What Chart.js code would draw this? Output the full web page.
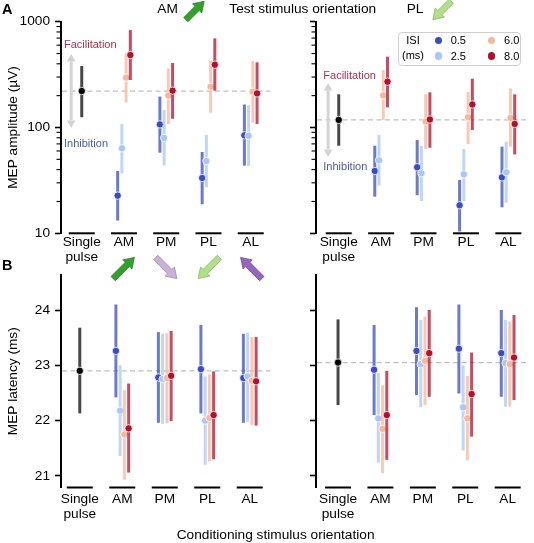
<!DOCTYPE html>
<html><head><meta charset="utf-8">
<script src="https://cdn.jsdelivr.net/npm/chart.js@4.4.1/dist/chart.umd.min.js"></script>
<style>
html,body{margin:0;padding:0;background:#fff;}
body{width:534px;height:543px;position:relative;overflow:hidden;font-family:'Liberation Sans',Arial,sans-serif;color:#000;}
canvas{position:absolute;}
svg{position:absolute;left:0;top:0;}
.t{position:absolute;white-space:nowrap;line-height:16px;font-size:13.7px;}
.s{position:absolute;white-space:nowrap;line-height:13px;font-size:11px;}
</style></head><body>
<canvas id="cA1" width="275" height="266" style="left:0;top:0;width:275px;height:266px"></canvas>
<canvas id="cA2" width="259" height="266" style="left:275px;top:0;width:259px;height:266px"></canvas>
<canvas id="cB1" width="275" height="275" style="left:0;top:250px;width:275px;height:275px"></canvas>
<canvas id="cB2" width="259" height="275" style="left:275px;top:250px;width:259px;height:275px"></canvas>
<svg id="arrows" width="534" height="543"></svg>
<div id="overlay"></div>
<script>
// ---------- data ----------
const categories = ['Single\npulse', 'AM', 'PM', 'PL', 'AL'];
const isiLabels = ['0.5', '2.5', '6.0', '8.0'];
const isiColors = ['#3b4cc0', '#aac7f8', '#f5b89c', '#b40f2c'];
const ampTicks = [10, 100, 1000];
const latTicks = [21, 22, 23, 24];

// A, test stimulus AM : MEP amplitude (µV); single = [mean, low, high]
const ampAM_single = [221, 125, 381];
const ampAM_mean = [[22.7, 107, 33.3, 84.3], [63.6, 79.6, 48.2, 83.5], [296, 200, 243, 218], [484, 223, 392, 210]];
const ampAM_lo   = [[13.2, 57.8, 18.8, 43.6], [36.9, 43.6, 27.2, 43.3], [173, 108, 138, 111], [281, 121, 223, 108]];
const ampAM_hi   = [[38.8, 196, 58.7, 165], [108, 146, 85, 162], [502, 362, 425, 425], [834, 407, 696, 413]];

// A, test stimulus PL
const ampPL_single = [118, 67.3, 206];
const ampPL_mean = [[38.8, 42.1, 18.4, 33.8], [49, 36.9, 36.1, 37.7], [201, 114, 125, 123], [271, 119, 165, 108]];
const ampPL_lo   = [[22.2, 22.9, 10.4, 17.6], [28.2, 20.2, 20.2, 19.5], [118, 62.6, 69.8, 65.9], [155, 64.4, 94.7, 55.7]];
const ampPL_hi   = [[67.3, 76.2, 31.9, 65.9], [85, 66.8, 62.6, 73.5], [349, 206, 216, 234], [467, 215, 289, 206]];

// B, test stimulus AM : MEP latency (ms)
const latAM_single = [22.90, 22.13, 23.68];
const latAM_mean = [[23.26, 22.78, 22.93, 22.77], [22.18, 22.75, 22.00, 22.80], [21.75, 22.77, 22.05, 22.72], [21.86, 22.81, 22.10, 22.71]];
const latAM_lo   = [[22.42, 21.96, 22.13, 21.96], [21.36, 21.94, 21.20, 21.98], [20.93, 21.95, 21.26, 21.92], [21.06, 21.99, 21.30, 21.91]];
const latAM_hi   = [[24.10, 23.60, 23.73, 23.57], [23.00, 23.57, 22.80, 23.59], [22.55, 23.58, 22.84, 23.51], [22.67, 23.62, 22.89, 23.51]];

// B, test stimulus PL
const latPL_single = [23.05, 22.28, 23.83];
const latPL_mean = [[22.92, 23.26, 23.30, 23.22], [22.04, 23.02, 22.24, 23.04], [21.85, 23.08, 22.04, 23.02], [22.10, 23.22, 22.48, 23.14]];
const latPL_lo   = [[22.10, 22.46, 22.49, 22.43], [21.24, 22.24, 21.46, 22.25], [21.05, 22.28, 21.28, 22.25], [21.29, 22.43, 21.71, 22.37]];
const latPL_hi   = [[23.73, 24.05, 24.10, 24.00], [22.86, 23.82, 23.00, 23.82], [22.64, 23.88, 22.81, 23.79], [22.90, 24.00, 23.23, 23.91]];

// ---------- helpers ----------
const FONT = "'Liberation Sans', Arial, sans-serif";
Chart.defaults.font.family = FONT;
Chart.defaults.font.size = 13.7;
Chart.defaults.color = '#000';

function rgba(hex, a) {
  const n = parseInt(hex.slice(1), 16);
  return `rgba(${n >> 16},${(n >> 8) & 255},${n & 255},${a})`;
}

function buildDatasets(single, mean, lo, hi) {
  const ds = [{
    label: 'Single pulse',
    data: [{ x: 0, y: single[0] }], errLo: [single[1]], errHi: [single[2]],
    barColor: 'rgba(0,0,0,0.72)', pointBackgroundColor: '#000', order: 5
  }];
  isiLabels.forEach((lab, k) => {
    const off = (k - 1.5) * 0.1;
    ds.push({
      label: lab,
      data: mean[k].map((v, i) => ({ x: i + 1 + off, y: v })),
      errLo: lo[k], errHi: hi[k],
      barColor: rgba(isiColors[k], 0.75),
      pointBackgroundColor: isiColors[k],
      order: 4 - k
    });
  });
  ds.forEach(d => {
    d.pointRadius = 3.7; d.pointBorderColor = '#fff'; d.pointBorderWidth = 0.8;
    d.showLine = false; d.pointHoverRadius = 3.7;
  });
  return ds;
}

const errPlugin = {
  id: 'err',
  beforeDatasetsDraw(chart, args, o) {
    const { ctx, chartArea: a, scales: { y } } = chart;
    const yp = y.getPixelForValue(o.refValue);
    ctx.save();
    ctx.strokeStyle = '#c0c0c0'; ctx.lineWidth = 1.3; ctx.setLineDash([5, 3.5]);
    ctx.beginPath(); ctx.moveTo(a.left + 1, yp); ctx.lineTo(a.right, yp); ctx.stroke();
    ctx.setLineDash([]);
    if (o.grey) {
      const x = chart.scales.x.getPixelForValue(-0.25);
      const half = 37, hl = 7.5, hw = 4.3;
      ctx.strokeStyle = '#d3d3d3'; ctx.fillStyle = '#d3d3d3'; ctx.lineWidth = 3;
      ctx.beginPath(); ctx.moveTo(x, yp - half + hl); ctx.lineTo(x, yp + half - hl); ctx.stroke();
      ctx.beginPath(); ctx.moveTo(x, yp - half); ctx.lineTo(x - hw, yp - half + hl); ctx.lineTo(x + hw, yp - half + hl); ctx.closePath(); ctx.fill();
      ctx.beginPath(); ctx.moveTo(x, yp + half); ctx.lineTo(x - hw, yp + half - hl); ctx.lineTo(x + hw, yp + half - hl); ctx.closePath(); ctx.fill();
    }
    ctx.restore();
  },
  beforeDatasetDraw(chart, args) {
    const ds = chart.data.datasets[args.index];
    if (!ds.errLo) return;
    const { ctx, scales: { y } } = chart;
    ctx.save();
    ctx.strokeStyle = ds.barColor; ctx.lineWidth = 3; ctx.lineCap = 'butt';
    args.meta.data.forEach((pt, i) => {
      ctx.beginPath();
      ctx.moveTo(pt.x, y.getPixelForValue(ds.errLo[i]));
      ctx.lineTo(pt.x, y.getPixelForValue(ds.errHi[i]));
      ctx.stroke();
    });
    ctx.restore();
  },
  afterDraw(chart, args, o) {
    const { ctx, chartArea: a, scales: { x, y } } = chart;
    ctx.save();
    ctx.strokeStyle = '#000'; ctx.lineWidth = 2;
    categories.forEach((c, i) => {
      const xp = x.getPixelForValue(i);
      ctx.beginPath(); ctx.moveTo(xp - 13, a.bottom); ctx.lineTo(xp + 13, a.bottom); ctx.stroke();
    });
    if (o.log) {
      ctx.lineWidth = 1.1;
      for (let e = 1; e < 3; e++) for (let m = 2; m < 10; m++) {
        const yp = y.getPixelForValue(m * Math.pow(10, e));
        ctx.beginPath(); ctx.moveTo(a.left - 4.5, yp); ctx.lineTo(a.left, yp); ctx.stroke();
      }
    }
    ctx.restore();
  }
};

function makeChart(id, cfg) {
  const areaW = cfg.w - cfg.padRight - cfg.yWidth;
  const xmin = -cfg.offset0 / cfg.spacing;
  const xmax = xmin + areaW / cfg.spacing;
  const yScale = cfg.log ? {
    type: 'logarithmic', min: 10, max: 1000,
    afterBuildTicks: s => { s.ticks = ampTicks.map(v => ({ value: v, major: true })); },
    ticks: { display: cfg.showY, padding: 5, font: { size: 13.7 }, callback: v => String(v) }
  } : {
    type: 'linear', min: 20.79, max: 24.633,
    afterBuildTicks: s => { s.ticks = latTicks.map(v => ({ value: v })); },
    ticks: { display: cfg.showY, padding: 5, font: { size: 13.7 }, callback: v => String(v) }
  };
  Object.assign(yScale, {
    afterFit: s => { s.width = cfg.yWidth; },
    grid: { display: true, drawOnChartArea: false, drawTicks: true, tickLength: 6, tickWidth: 1.6, tickColor: '#000' },
    border: { display: true, color: '#000', width: 2 },
    title: { display: !!cfg.yTitle, text: cfg.yTitle, font: { size: 13.7 }, padding: { top: 5, bottom: 0 } }
  });
  return new Chart(document.getElementById(id), {
    type: 'scatter',
    data: { datasets: buildDatasets(cfg.single, cfg.mean, cfg.lo, cfg.hi) },
    options: {
      responsive: false, animation: false, events: [],
      layout: { padding: { top: cfg.padTop, right: cfg.padRight, left: 0, bottom: 0 } },
      plugins: {
        legend: { display: false }, tooltip: { enabled: false },
        err: { refValue: cfg.single[0], grey: cfg.log, log: cfg.log }
      },
      scales: {
        x: {
          type: 'linear', min: xmin, max: xmax,
          afterFit: s => { s.height = cfg.xHeight; },
          afterBuildTicks: s => { s.ticks = categories.map((c, i) => ({ value: i })); },
          grid: { display: false, drawTicks: false },
          border: { display: false },
          ticks: { autoSkip: false, maxRotation: 0, padding: cfg.xPad, font: { size: 13.7, lineHeight: 1.1 },
                   callback: v => categories[Math.round(v)].split('\n') }
        },
        y: yScale
      }
    },
    plugins: [errPlugin]
  });
}

const cA1 = makeChart('cA1', { w: 275, yWidth: 61, padRight: 2, padTop: 21.7, xHeight: 32.7, offset0: 21, spacing: 42.75, xPad: 1.5,
  log: true, showY: true, yTitle: 'MEP amplitude (µV)', single: ampAM_single, mean: ampAM_mean, lo: ampAM_lo, hi: ampAM_hi });
const cA2 = makeChart('cA2', { w: 259, yWidth: 41, padRight: 2, padTop: 21.7, xHeight: 32.7, offset0: 23, spacing: 42.9, xPad: 1.5,
  log: true, showY: false, yTitle: '', single: ampPL_single, mean: ampPL_mean, lo: ampPL_lo, hi: ampPL_hi });
const cB1 = makeChart('cB1', { w: 275, yWidth: 61, padRight: 2, padTop: 25, xHeight: 37.5, offset0: 19, spacing: 43, xPad: 4.3,
  log: false, showY: true, yTitle: 'MEP latency (ms)', single: latAM_single, mean: latAM_mean, lo: latAM_lo, hi: latAM_hi });
const cB2 = makeChart('cB2', { w: 259, yWidth: 41, padRight: 2, padTop: 25, xHeight: 37.5, offset0: 22.3, spacing: 42.9, xPad: 4.3,
  log: false, showY: false, yTitle: '', single: latPL_single, mean: latPL_mean, lo: latPL_lo, hi: latPL_hi });

// ---------- arrows (orientation glyphs) ----------
const orientArrows = {
  AM: { dir: [1, -1], fill: '#33a02c', stroke: '#2a8526' },
  PM: { dir: [1, 1], fill: '#cab2d6', stroke: '#a08aae' },
  PL: { dir: [-1, 1], fill: '#b2df8a', stroke: '#86b862' },
  AL: { dir: [-1, -1], fill: '#9467bd', stroke: '#74499d' }
};
const svg = document.getElementById('arrows');
function arrow(cx, cy, name, len) {
  const a = orientArrows[name];
  const n = Math.hypot(a.dir[0], a.dir[1]);
  const dx = a.dir[0] / n, dy = a.dir[1] / n, nx = -dy, ny = dx;
  const sw = 3, hw = 6.5, hl = 10;
  const tx = cx - dx * len / 2, ty = cy - dy * len / 2;
  const px = cx + dx * len / 2, py = cy + dy * len / 2;
  const kx = px - dx * hl, ky = py - dy * hl;
  const pts = [[tx + nx * sw, ty + ny * sw], [kx + nx * sw, ky + ny * sw], [kx + nx * hw, ky + ny * hw], [px, py],
               [kx - nx * hw, ky - ny * hw], [kx - nx * sw, ky - ny * sw], [tx - nx * sw, ty - ny * sw]];
  const p = document.createElementNS('http://www.w3.org/2000/svg', 'polygon');
  p.setAttribute('points', pts.map(q => q[0].toFixed(1) + ',' + q[1].toFixed(1)).join(' '));
  p.setAttribute('fill', a.fill); p.setAttribute('stroke', a.stroke); p.setAttribute('stroke-width', '0.8');
  p.setAttribute('stroke-linejoin', 'miter');
  svg.appendChild(p);
}
arrow(195, 10.5, 'AM', 26);
arrow(442, 10.5, 'PL', 26);
categories.slice(1).forEach((c, i) => {
  arrow(cB1.scales.x.getPixelForValue(i + 1) + 1.5, 268, c, 30);
});

// ---------- text overlay ----------
const ov = document.getElementById('overlay');
function text(str, left, top, cls, style) {
  const d = document.createElement('div');
  d.className = cls; d.textContent = str; d.style.left = left + 'px'; d.style.top = top + 'px';
  if (style) Object.assign(d.style, style);
  ov.appendChild(d);
  return d;
}
text('A', 2, 0.5, 't', { fontWeight: 'bold', fontSize: '14.5px', lineHeight: '17px' });
text('B', 2, 256.5, 't', { fontWeight: 'bold', fontSize: '14.5px', lineHeight: '17px' });
text('AM', 157.3, 1, 't');
text('Test stimulus orientation', 229.3, 1, 't');
text('PL', 406.7, 1, 't');
text('Conditioning stimulus orientation', 176.7, 526.5, 't');
text('Facilitation', 64, 37.5, 's', { color: '#b2304a' });
text('Inhibition', 64, 136.8, 's', { color: '#4a5ab0' });
text('Facilitation', 323.3, 68.5, 's', { color: '#b2304a' });
text('Inhibition', 323.3, 160.2, 's', { color: '#4a5ab0' });

// legend
const box = document.createElement('div');
Object.assign(box.style, { position: 'absolute', left: '398px', top: '32px', width: '121px', height: '32px',
  border: '1px solid #cfcfcf', borderRadius: '4px', background: 'rgba(255,255,255,0.85)' });
ov.appendChild(box);
text('ISI', 398, 34.2, 's', { width: '30px', textAlign: 'center' });
text('(ms)', 398, 48.5, 's', { width: '30px', textAlign: 'center' });
isiLabels.forEach((lab, k) => {
  const col = Math.floor(k / 2), row = k % 2;
  const cx = 438.3 + col * 53.4, cy = 40.3 + row * 15.7;
  const dot = document.createElement('div');
  Object.assign(dot.style, { position: 'absolute', left: (cx - 3.7) + 'px', top: (cy - 3.7) + 'px', width: '7.4px', height: '7.4px',
    borderRadius: '50%', background: isiColors[k] });
  ov.appendChild(dot);
  text(lab, cx + 12.4, cy - 6.2, 's');
});
</script>
</body></html>
